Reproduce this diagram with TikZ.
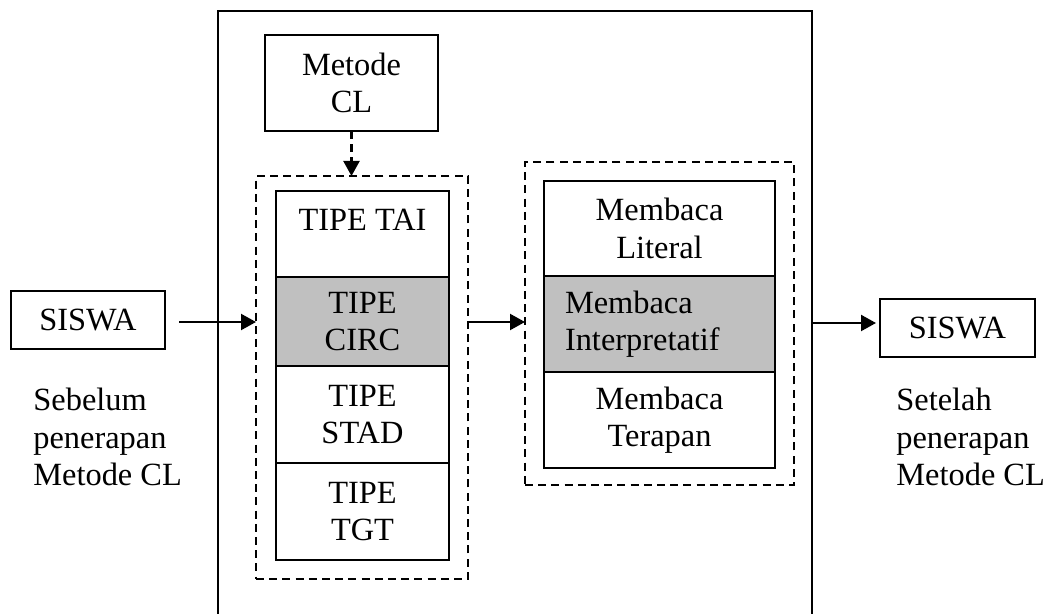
\documentclass[tikz,border=0pt]{standalone}
\usepackage{fontspec}
\setmainfont{Liberation Serif}
\usetikzlibrary{arrows.meta,positioning}
\definecolor{cellgray}{HTML}{C0C0C0}

\begin{document}
\begin{tikzpicture}[x=0.5pt, y=-0.5pt,
    font=\fontsize{16.2}{18.6}\selectfont,
    box/.style={draw, line width=1.1pt, align=center, inner sep=0pt, outer sep=0pt},
    leftcell/.style={box, minimum width=86.5pt, minimum height=#1},
    rightcell/.style={box, minimum width=115.5pt, minimum height=#1},
    dashbox/.style={draw, line width=1pt, dash pattern=on 4pt off 2.6pt, inner sep=0pt, outer sep=0pt},
    arr/.style={line width=1.1pt, -{Triangle[length=7.5pt, width=8pt]}},
    caption/.style={align=left, anchor=north west, inner sep=0pt}]
  \useasboundingbox (0,0) rectangle (1043,614);

  % big frame, open at the bottom
  \draw[line width=1.1pt] (218,630) |- (812,11) -- (812,630);

  \node[box, minimum width=86.5pt, minimum height=48pt] (metode) at (351.5,83) {Metode\\CL};

  % left stack
  \node[dashbox, minimum width=106pt, minimum height=201.5pt] (tipeBox) at (362,377.5) {};
  \node[leftcell=43pt, anchor=north] (tai) at (362.5,191) {TIPE TAI\\[-4pt]\mbox{}};
  \node[leftcell=44.5pt, fill=cellgray, below=0pt of tai] (circ) {TIPE\\CIRC};
  \node[leftcell=48.5pt, below=0pt of circ] (stad) {TIPE\\STAD};
  \node[leftcell=48.5pt, below=0pt of stad] (tgt) {TIPE\\TGT};

  % right stack
  \node[dashbox, minimum width=134.5pt, minimum height=161.5pt] (bacaBox) at (659.5,323.5) {};
  \node[rightcell=47.5pt, anchor=north] (literal) at (659.5,181) {Membaca\\Literal};
  \node[rightcell=48pt, fill=cellgray, below=0pt of literal, align=left,
        inner xsep=10.5pt, text width=94.5pt] (interp) {Membaca\\Interpretatif};
  \node[rightcell=48pt, below=0pt of interp] (terapan) {Membaca\\Terapan};

  % students
  \node[box, minimum width=77pt, minimum height=29pt] (siswaIn) at (88,320) {SISWA};
  \node[box, minimum width=77.5pt, minimum height=29pt] (siswaOut) at (957.5,328) {SISWA};
  \node[caption] (before) at (33,388) {Sebelum\\penerapan\\Metode CL};
  \node[caption] (after) at (896,388) {Setelah\\penerapan\\Metode CL};

  % arrows
  \coordinate (inStart) at (179,322);
  \coordinate (outStart) at (812,323);
  \draw[arr] (inStart) -- (inStart -| tipeBox.west);
  \draw[arr] (tipeBox.east |- inStart) -- (bacaBox.west |- inStart);
  \draw[arr, shorten >=2pt] (outStart) -- (outStart -| siswaOut.west);
  \draw[arr, dash pattern=on 4pt off 2.6pt] (metode.south) -- (metode.south |- tipeBox.north);
\end{tikzpicture}
\end{document}
